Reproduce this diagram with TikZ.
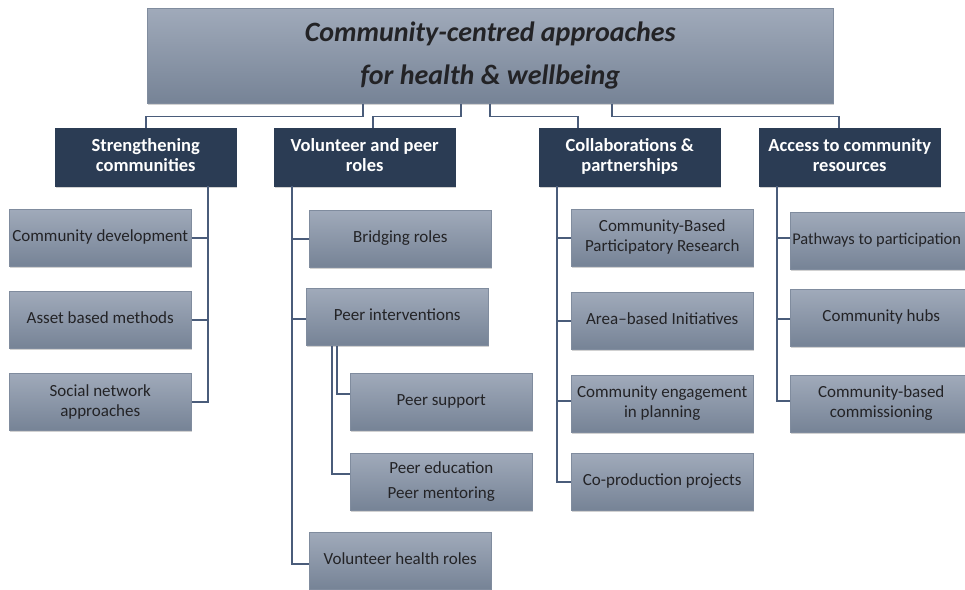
\documentclass[tikz,border=0pt]{standalone}
\usepackage{fontspec}
\setmainfont{Carlito}
\usetikzlibrary{shadows}
\definecolor{subtop}{RGB}{160,170,186}
\definecolor{subbot}{RGB}{118,131,150}
\definecolor{subedge}{RGB}{128,140,158}
\definecolor{cat}{RGB}{43,60,84}
\definecolor{conn}{RGB}{74,92,122}
\definecolor{txt}{RGB}{35,35,38}
\begin{document}
\begin{tikzpicture}[x=1pt,y=-1pt,
  boxshadow/.style={drop shadow={shadow xshift=1pt,shadow yshift=-1.5pt,opacity=0.18,fill=black}},
  subbox/.style={anchor=north west, minimum width=182pt, minimum height=57pt, inner sep=0pt,
    top color=subtop, bottom color=subbot, draw=subedge, line width=0.5pt,
    font=\fontsize{17}{19.5}\selectfont, text=txt, align=center, boxshadow},
  catbox/.style={anchor=north west, minimum width=181pt, minimum height=58pt, inner sep=0pt,
    fill=cat, draw=cat, text=white, font=\bfseries\fontsize{18.5}{20}\selectfont, align=center, boxshadow},
  topbox/.style={anchor=north west, minimum width=686pt, minimum height=95pt, inner sep=0pt,
    top color=subtop, bottom color=subbot, draw=subedge, line width=0.5pt,
    font=\bfseries\itshape\fontsize{28}{43}\selectfont, text=txt, align=center, boxshadow},
  link/.style={draw=conn, line width=1.7pt}
]
\useasboundingbox (0,0) rectangle (965,589);

% top
\node[topbox] (top) at (147,8) {Community-centred approaches\\for health \& wellbeing\rule[-4pt]{0pt}{1pt}};

% categories
\node[catbox] (c1) at (55,128) {Strengthening\\communities\rule[-4pt]{0pt}{1pt}};
\node[catbox] (c2) at (274,128) {Volunteer and peer\\roles\rule[-4pt]{0pt}{1pt}};
\node[catbox] (c3) at (539,128) {Collaborations \&\\partnerships\rule[-4pt]{0pt}{1pt}};
\node[catbox] (c4) at (759,128) {Access to community\\resources\rule[-4pt]{0pt}{1pt}};

% column 1
\node[subbox] (s11) at (9,209) {Community development\rule[-4pt]{0pt}{1pt}};
\node[subbox] (s12) at (9,291) {Asset based methods\rule[-4pt]{0pt}{1pt}};
\node[subbox] (s13) at (9,373) {Social network\\approaches};

% column 2
\node[subbox] (s21) at (309,210) {Bridging roles\rule[-4pt]{0pt}{1pt}};
\node[subbox] (s22) at (306,288) {Peer interventions\rule[-4pt]{0pt}{1pt}};
\node[subbox] (s23) at (350,373) {Peer support\rule[-4pt]{0pt}{1pt}};
\node[subbox, font=\fontsize{17}{25}\selectfont] (s24) at (350,453) {Peer education\\Peer mentoring};
\node[subbox] (s25) at (309,532) {Volunteer health roles\rule[-4pt]{0pt}{1pt}};

% column 3
\node[subbox] (s31) at (571,209) {Community-Based\\Participatory Research\rule[-4pt]{0pt}{1pt}};
\node[subbox] (s32) at (571,292) {Area--based Initiatives\rule[-4pt]{0pt}{1pt}};
\node[subbox] (s33) at (571,375) {Community engagement\\in planning\rule[-4pt]{0pt}{1pt}};
\node[subbox] (s34) at (571,453) {Co-production projects\rule[-4pt]{0pt}{1pt}};

% column 4
\node[subbox, font=\fontsize{16.4}{19.5}\selectfont] (s41) at (790,212) {\makebox[178pt][l]{Pathways to participation}\rule[-4pt]{0pt}{1pt}};
\node[subbox] (s42) at (790,289) {Community hubs\rule[-4pt]{0pt}{1pt}};
\node[subbox] (s43) at (790,375) {Community-based\\commissioning\rule[-4pt]{0pt}{1pt}};

% top connectors
\draw[link] ([xshift=216pt]top.south west) -- ++(0,13) -| (c1.north);
\draw[link] ([xshift=314pt]top.south west) -- ++(0,13) -| ([xshift=8pt]c2.north);
\draw[link] ([xshift=343pt]top.south west) -- ++(0,13) -| ([xshift=39pt]c3.north west);
\draw[link] ([xshift=465pt]top.south west) -- ++(0,13) -| ([xshift=80pt]c4.north west);

% column 1 connectors
\coordinate (v1) at ([xshift=153pt]c1.south west);
\draw[link] (v1) |- (s13.east);
\draw[link] (s11.east) -- (s11.east -| v1);
\draw[link] (s12.east) -- (s12.east -| v1);

% column 2 connectors
\coordinate (v2) at ([xshift=18pt]c2.south west);
\draw[link] (v2) |- ([yshift=-3pt]s25.west);
\draw[link] (s21.west) -- (s21.west -| v2);
\draw[link] ([yshift=-2pt]s22.west) -- ([yshift=-2pt]s22.west -| v2);
\draw[link] ([xshift=31pt]s22.south west) |- ([yshift=8pt]s23.west);
\draw[link] ([xshift=26pt]s22.south west) |- ([yshift=8pt]s24.west);

% column 3 connectors
\coordinate (v3) at ([xshift=18pt]c3.south west);
\draw[link] (v3) |- (s34.west);
\draw[link] (s31.west) -- (s31.west -| v3);
\draw[link] (s32.west) -- (s32.west -| v3);
\draw[link] ([yshift=3pt]s33.west) -- ([yshift=3pt]s33.west -| v3);

% column 4 connectors
\coordinate (v4) at ([xshift=18pt]c4.south west);
\draw[link] (v4) |- ([yshift=3pt]s43.west);
\draw[link] ([yshift=3pt]s41.west) -- ([yshift=3pt]s41.west -| v4);
\draw[link] ([yshift=-1pt]s42.west) -- ([yshift=-1pt]s42.west -| v4);
\end{tikzpicture}
\end{document}
